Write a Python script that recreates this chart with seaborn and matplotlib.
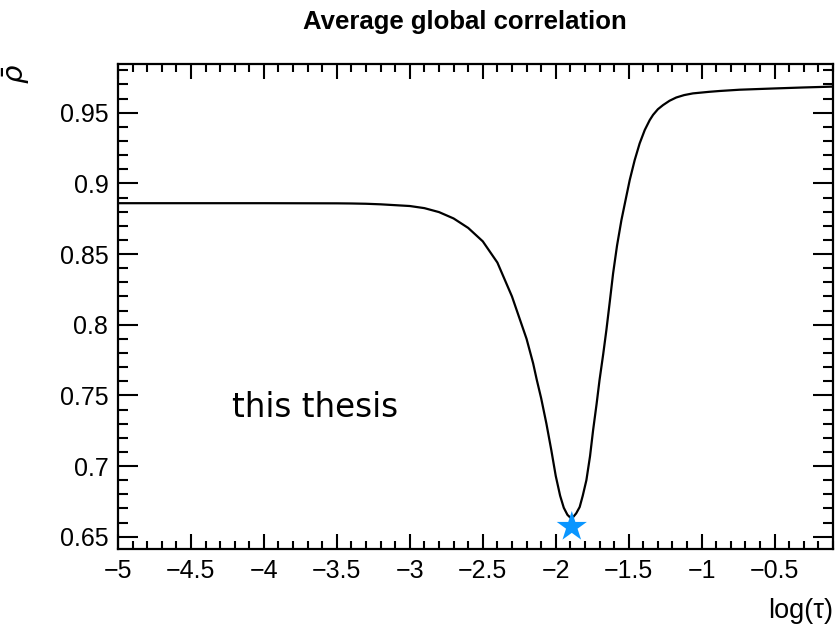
import matplotlib
matplotlib.use("Agg")
import matplotlib.pyplot as plt
from matplotlib.ticker import MultipleLocator, FuncFormatter
import seaborn as sns
import pandas as pd

# log(tau) scan and the corresponding average global correlation
log_tau = [-5.0, -4.5, -4.0, -3.5, -3.4, -3.3, -3.2, -3.0, -2.9, -2.8,
           -2.7, -2.6, -2.5, -2.4, -2.3, -2.2, -2.155, -2.13, -2.1, -2.064,
           -2.03, -2.0, -1.97, -1.945, -1.92, -1.90, -1.88, -1.86, -1.836,
           -1.815, -1.79, -1.765, -1.744, -1.72, -1.70, -1.675, -1.653,
           -1.63, -1.607, -1.58, -1.55, -1.52, -1.493, -1.459, -1.425,
           -1.39, -1.356, -1.333, -1.30, -1.265, -1.22, -1.174, -1.12,
           -1.06, -0.95, -0.877, -0.74, -0.5, -0.3, -0.1]
rho_mean = [0.886, 0.886, 0.886, 0.8859, 0.8858, 0.8856, 0.8852, 0.8840,
            0.8825, 0.8797, 0.8752, 0.8685, 0.8590, 0.8440, 0.8200, 0.7900,
            0.7727, 0.7610, 0.7480, 0.7300, 0.7110, 0.6930, 0.6790, 0.6705,
            0.6655, 0.6635, 0.6640, 0.6665, 0.6710, 0.6790, 0.6900, 0.7070,
            0.7254, 0.7440, 0.7608, 0.7790, 0.7962, 0.8160, 0.8363, 0.8560,
            0.8740, 0.8890, 0.9024, 0.9165, 0.9283, 0.9378, 0.9448, 0.9485,
            0.9525, 0.9554, 0.9585, 0.9608, 0.9625, 0.9637, 0.9648, 0.9654,
            0.9663, 0.9672, 0.9679, 0.9685]

# optimal regularisation point
best_tau = [-1.89]
best_rho = [0.657]

curve = pd.DataFrame({"log_tau": log_tau, "rho": rho_mean})
best = pd.DataFrame({"log_tau": best_tau, "rho": best_rho})

sns.set_theme(style="ticks")
plt.rcParams["font.family"] = ["Liberation Sans", "DejaVu Sans"]
plt.rcParams["text.color"] = "black"
plt.rcParams["axes.labelcolor"] = "black"

fig = plt.figure(figsize=(8.35, 6.33), dpi=100)
ax = fig.add_axes([0.1413, 0.1327, 0.8563, 0.7662])

sns.lineplot(data=curve, x="log_tau", y="rho", ax=ax, color="black",
             linewidth=1.6, sort=False)
sns.scatterplot(data=best, x="log_tau", y="rho", ax=ax, marker="*",
                s=520, color="#0a96ff", edgecolor="none", zorder=5)

ax.set_xlim(-5.0, -0.1)
ax.set_ylim(0.6413, 0.9845)

ax.xaxis.set_major_locator(MultipleLocator(0.5))
ax.xaxis.set_minor_locator(MultipleLocator(0.1))
ax.yaxis.set_major_locator(MultipleLocator(0.05))
ax.yaxis.set_minor_locator(MultipleLocator(0.01))

ax.xaxis.set_major_formatter(FuncFormatter(
    lambda v, p: ("%g" % v).replace("-", "\u2212")))
ax.yaxis.set_major_formatter(FuncFormatter(
    lambda v, p: "%g" % round(v, 3)))

ax.tick_params(axis="both", which="both", direction="in", top=True,
               right=True, colors="black", width=1.5, labelsize=18)
ax.tick_params(axis="x", which="major", length=10.5, pad=7)
ax.tick_params(axis="x", which="minor", length=5.5)
ax.tick_params(axis="y", which="major", length=14.5, pad=7)
ax.tick_params(axis="y", which="minor", length=7.2)

for sp in ax.spines.values():
    sp.set_linewidth(1.6)
    sp.set_color("black")

ax.set_xlabel("log(\u03c4)", fontsize=19.5, loc="right", labelpad=11)
ax.set_ylabel(r"$\bar{\rho}$", fontsize=21, loc="top", labelpad=20)

ax.set_title("Average global correlation", fontsize=18.5,
             fontweight="bold", pad=25, x=0.485)

ax.text(0.159, 0.272, "this thesis", transform=ax.transAxes,
        fontsize=23.5, family="DejaVu Sans", ha="left", va="baseline")

fig.savefig("out.png", dpi=100)
